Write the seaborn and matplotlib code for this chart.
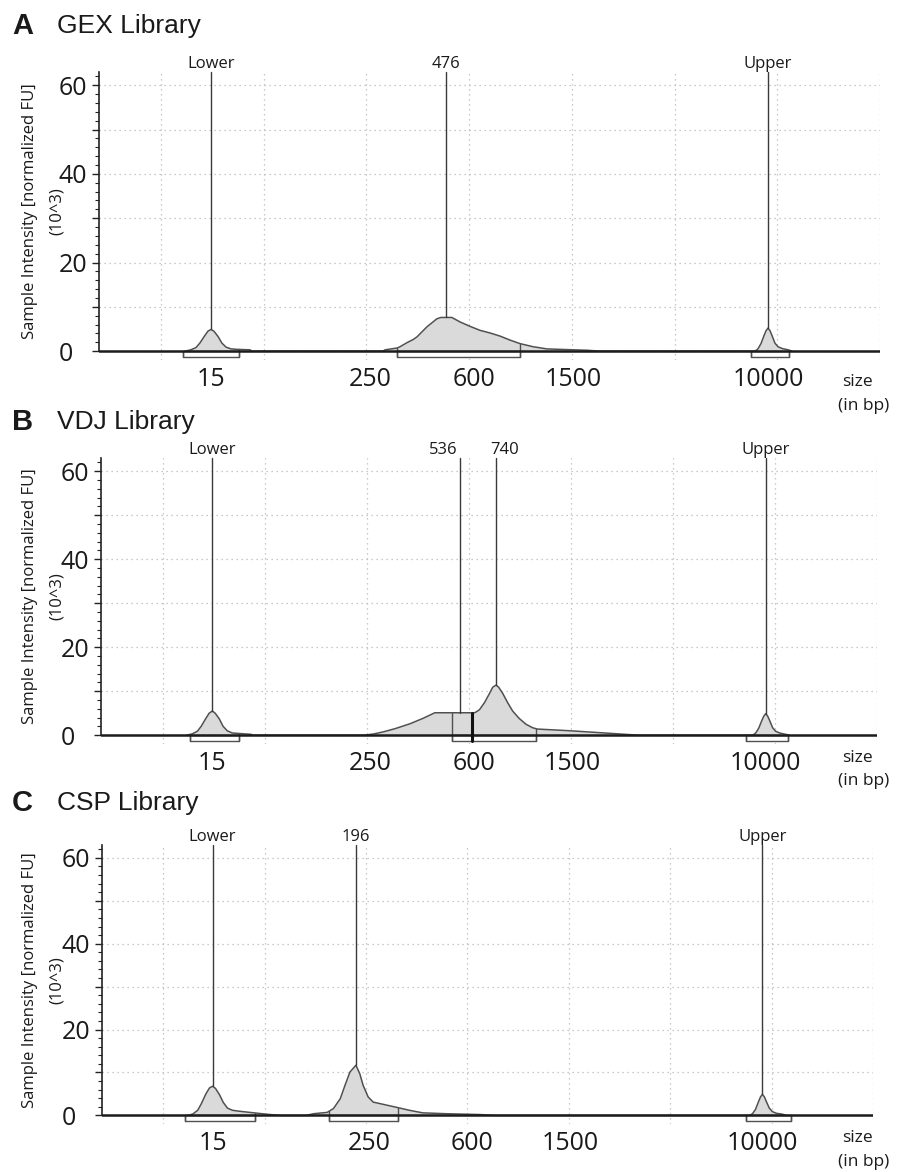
import numpy as np
import pandas as pd
import matplotlib
matplotlib.use("Agg")
import matplotlib.pyplot as plt
import matplotlib.transforms as mtransforms
import seaborn as sns
from matplotlib.patches import Rectangle
from matplotlib.ticker import FixedLocator, FuncFormatter

# ---------------- data ----------------
# ladder calibration: fragment size (bp) -> migration position (run units)
ladder_bp = [15, 250, 600, 1500, 10000]
ladder_migration = [112, 271, 375, 474, 669]
run_length = 781
grid_start = 62
grid_step = 102.7

size_ticks = [15, 250, 600, 1500, 10000]
size_tick_labels = ["15", "250", "600", "1500", "10000"]

# GEX library
gex_size = [9.5, 10.5, 11.5, 12.3, 13.3, 14.2, 15, 15.8, 17.0, 18.2, 19.6, 21.4, 23.8, 29.9, 31.0,
            279, 284, 314, 322, 341, 359, 371, 404, 439, 454, 476, 498, 533, 580, 634, 696, 763,
            837, 918, 1036, 1179, 1330, 1718, 1950,
            8810, 9070, 9340, 9620, 9810, 10000, 10200, 10400, 10700, 11020, 11460, 12150, 12630]
gex_intensity = [0, 0.3, 0.8, 1.8, 3.3, 4.5, 4.9, 4.5, 3.3, 1.8, 0.9, 0.5, 0.4, 0.3, 0,
                 0, 0.3, 0.7, 1.0, 1.9, 2.6, 3.2, 5.5, 7.3, 7.6, 7.6, 7.6, 6.6, 5.6, 4.7, 4.1, 3.4,
                 2.5, 1.7, 1.0, 0.5, 0.4, 0.2, 0,
                 0, 0.5, 1.7, 3.5, 4.6, 5.2, 4.6, 3.5, 1.8, 1.0, 0.6, 0.3, 0]
gex_regions = [(9.1, 24.6), (314, 918), (8470, 12280)]
gex_markers = [15, 476, 10000]
gex_marker_labels = ["Lower", "476", "Upper"]

# VDJ library
vdj_size = [9.5, 10.5, 11.5, 12.3, 13.3, 14.2, 15, 15.8, 17.0, 18.2, 19.6, 21.4, 23.8, 29.9, 31.0,
            221, 256, 279, 309, 350, 390, 432, 536, 605, 615, 634, 664, 696, 717, 740, 758, 787,
            824, 863, 918, 977, 1039, 1085, 1482, 2213, 2877,
            8810, 9070, 9340, 9620, 9810, 10000, 10200, 10400, 10700, 11020, 11460, 12150, 12630]
vdj_intensity = [0, 0.3, 0.9, 2.0, 3.7, 5.0, 5.5, 5.0, 3.7, 2.0, 1.0, 0.5, 0.4, 0.2, 0,
                 0, 0.25, 0.75, 1.5, 2.6, 3.8, 5.1, 5.1, 5.1, 5.3, 5.8, 7.4, 9.5, 10.9, 11.4, 10.9, 9.5,
                 7.4, 5.5, 3.8, 2.5, 1.7, 1.4, 1.0, 0.4, 0,
                 0, 0.5, 1.6, 3.3, 4.3, 4.9, 4.3, 3.3, 1.7, 0.9, 0.5, 0.2, 0]
vdj_regions = [(10.0, 24.2), (498, 590), (590, 1075), (8230, 12400)]
vdj_markers = [15, 536, 740, 10000]
vdj_marker_labels = ["Lower", "536", "740", "Upper"]

# CSP library
csp_size = [9.6, 10.5, 11.5, 12.3, 13.3, 14.2, 15, 15.8, 17.0, 18.2, 19.6, 21.4, 23.8, 31.5, 40.4, 50.9,
            80, 92, 117, 131, 148, 161, 176, 196, 210, 223, 244, 258, 280, 314, 351, 393, 478, 645, 742,
            8810, 9070, 9340, 9620, 9810, 10000, 10200, 10400, 10700, 11020, 11460, 12150, 12630]
csp_intensity = [0, 0.3, 1.2, 2.8, 5.0, 6.4, 6.8, 6.3, 4.8, 3.0, 1.7, 1.2, 1.0, 0.6, 0.25, 0,
                 0, 0.4, 0.7, 1.6, 3.9, 7.0, 10.1, 11.7, 9.7, 7.0, 4.3, 3.1, 2.6, 1.9, 1.2, 0.6, 0.4, 0.2, 0,
                 0, 0.4, 1.4, 3.2, 4.3, 4.9, 4.3, 3.2, 1.7, 0.9, 0.5, 0.3, 0]
csp_regions = [(9.1, 32.0), (121, 320), (8475, 13260)]
csp_markers = [15, 196, 10000]
csp_marker_labels = ["Lower", "196", "Upper"]

panel_letters = ["A", "B", "C"]
panel_titles = ["GEX Library", "VDJ Library", "CSP Library"]

# ---------------- scale ----------------
_L = np.log10(np.asarray(ladder_bp, float))
_P = np.asarray(ladder_migration, float)


def _interp_ext(v, xs, ys):
    v = np.asarray(v, float)
    out = np.interp(v, xs, ys)
    out = np.where(v < xs[0], ys[0] + (v - xs[0]) * (ys[1] - ys[0]) / (xs[1] - xs[0]), out)
    out = np.where(v > xs[-1], ys[-1] + (v - xs[-1]) * (ys[-1] - ys[-2]) / (xs[-1] - xs[-2]), out)
    return out


def forward(bp):
    bp = np.asarray(bp, float)
    return _interp_ext(np.log10(np.clip(bp, 1e-6, None)), _L, _P)


def inverse(pos):
    return 10 ** _interp_ext(pos, _P, _L)


# ---------------- style ----------------
sns.set_style("white")
plt.rcParams["font.family"] = ["Open Sans", "DejaVu Sans"]

W, H = 898, 1172
fig = plt.figure(figsize=(W / 100, H / 100), dpi=100)

# axes rectangles in pixels: left, top(y=63), right, bottom
rects_px = [(99, 72, 880, 360), (101, 458, 877, 744), (102, 845, 873, 1124)]
title_y = [26, 422, 803]
size_y = [(382, 406), (758, 781), (1138, 1162)]

panels = [
    (gex_size, gex_intensity, gex_regions, gex_markers, gex_marker_labels, [0, 0, 0]),
    (vdj_size, vdj_intensity, vdj_regions, vdj_markers, vdj_marker_labels, [0, -12, 6, 0]),
    (csp_size, csp_intensity, csp_regions, csp_markers, csp_marker_labels, [0, 0, 0]),
]

YTOP = 63
BOX = 1.3
line_col = "#505050"

for i, (size, inten, regions, markers, mlabels, offsets) in enumerate(panels):
    l, t, r, b = rects_px[i]
    ax = fig.add_axes([l / W, 1 - b / H, (r - l) / W, (b - t) / H])
    df = pd.DataFrame({"size": size, "intensity": inten})

    ax.fill_between(size, 0, inten, color="#dadada", lw=0, zorder=1)
    sns.lineplot(data=df, x="size", y="intensity", ax=ax, color=line_col,
                 linewidth=1.1, estimator=None, zorder=3)
    ax.set_xscale("function", functions=(forward, inverse))
    ax.set_xlim(inverse(0), inverse(run_length))
    ax.set_ylim(-2.0, YTOP)
    ax.axhline(0, color="#1c1c1c", lw=1.8, zorder=4)

    fpos = forward(size)
    # region boxes (edges rise to the trace; shared edges are drawn heavier)
    edges = [e for reg in regions for e in reg]
    for lo, hi in regions:
        ax.add_patch(Rectangle((lo, -BOX), hi - lo, BOX, facecolor="white",
                               edgecolor=line_col, lw=1.0, zorder=3))
    for edge in sorted(set(edges)):
        h = float(np.interp(forward(edge), fpos, inten))
        shared = edges.count(edge) > 1
        ax.plot([edge, edge], [-BOX, h], color="#111111" if shared else line_col,
                lw=2.2 if shared else 1.0, zorder=4.5 if shared else 3)

    # peak markers
    for m, lab, dx in zip(markers, mlabels, offsets):
        h = float(np.interp(forward(m), fpos, inten))
        ax.plot([m, m], [h, YTOP], color="#3a3a3a", lw=1.0, zorder=5, clip_on=False)
        ax.annotate(lab, (m, YTOP), xytext=(dx, 0), textcoords="offset points",
                    ha="center", va="bottom", fontsize=12, color="#1a1a1a")

    # x axis
    ax.set_xticks(size_ticks)
    ax.set_xticklabels(size_tick_labels, fontsize=18, color="#1a1a1a")
    ax.xaxis.set_minor_locator(FixedLocator(inverse(grid_start + grid_step * np.arange(8))))
    ax.tick_params(axis="x", which="both", length=0, pad=5, bottom=False)
    ax.grid(True, which="minor", axis="x", color="#b8b8b8", linestyle=(0, (1, 3)), lw=0.9)

    # y axis
    ax.yaxis.set_major_locator(FixedLocator(np.arange(0, 61, 10)))
    ax.yaxis.set_minor_locator(FixedLocator(np.arange(0, 63, 2)))
    ax.yaxis.set_major_formatter(FuncFormatter(lambda v, p: f"{v:.0f}" if round(v) % 20 == 0 else ""))
    ax.tick_params(axis="y", which="major", length=5, width=1, labelsize=18, pad=24,
                   direction="out", left=True, colors="#222222", labelcolor="#1a1a1a")
    ax.tick_params(axis="y", which="minor", length=2.8, width=0.8, left=True, colors="#222222")
    for lab in ax.get_yticklabels():
        lab.set_horizontalalignment("left")
    ax.grid(True, which="major", axis="y", color="#b8b8b8", linestyle=(0, (1, 3)), lw=0.9)

    for s in ("top", "right", "bottom"):
        ax.spines[s].set_visible(False)
    ax.spines["left"].set_bounds(0, YTOP)
    ax.spines["left"].set_color("#222222")
    ax.spines["left"].set_linewidth(1.2)
    ax.set_xlabel("")
    ax.set_ylabel("")

    # y label (two lines)
    trans = mtransforms.blended_transform_factory(fig.transFigure, ax.transData)
    ax.text(30 / W, YTOP / 2, "Sample Intensity [normalized FU]", rotation=90,
            ha="center", va="center", fontsize=12, transform=trans, color="#1a1a1a")
    ax.text(57 / W, YTOP / 2, "(10^3)", rotation=90,
            ha="center", va="center", fontsize=12, transform=trans, color="#1a1a1a")

    # titles
    fig.text(12 / W, 1 - title_y[i] / H, panel_letters[i], fontsize=21, fontweight="bold",
             family="Liberation Sans", va="center", ha="left", color="#1a1a1a")
    fig.text(57 / W, 1 - title_y[i] / H, panel_titles[i], fontsize=19,
             family="Liberation Sans", va="center", ha="left", color="#1a1a1a")

    # size label
    fig.text(842 / W, 1 - size_y[i][0] / H, "size", fontsize=12.5, va="center", ha="left",
             color="#1a1a1a")
    fig.text(838 / W, 1 - size_y[i][1] / H, "(in bp)", fontsize=12.5, va="center", ha="left",
             color="#1a1a1a")

fig.savefig("out.png", dpi=100)
